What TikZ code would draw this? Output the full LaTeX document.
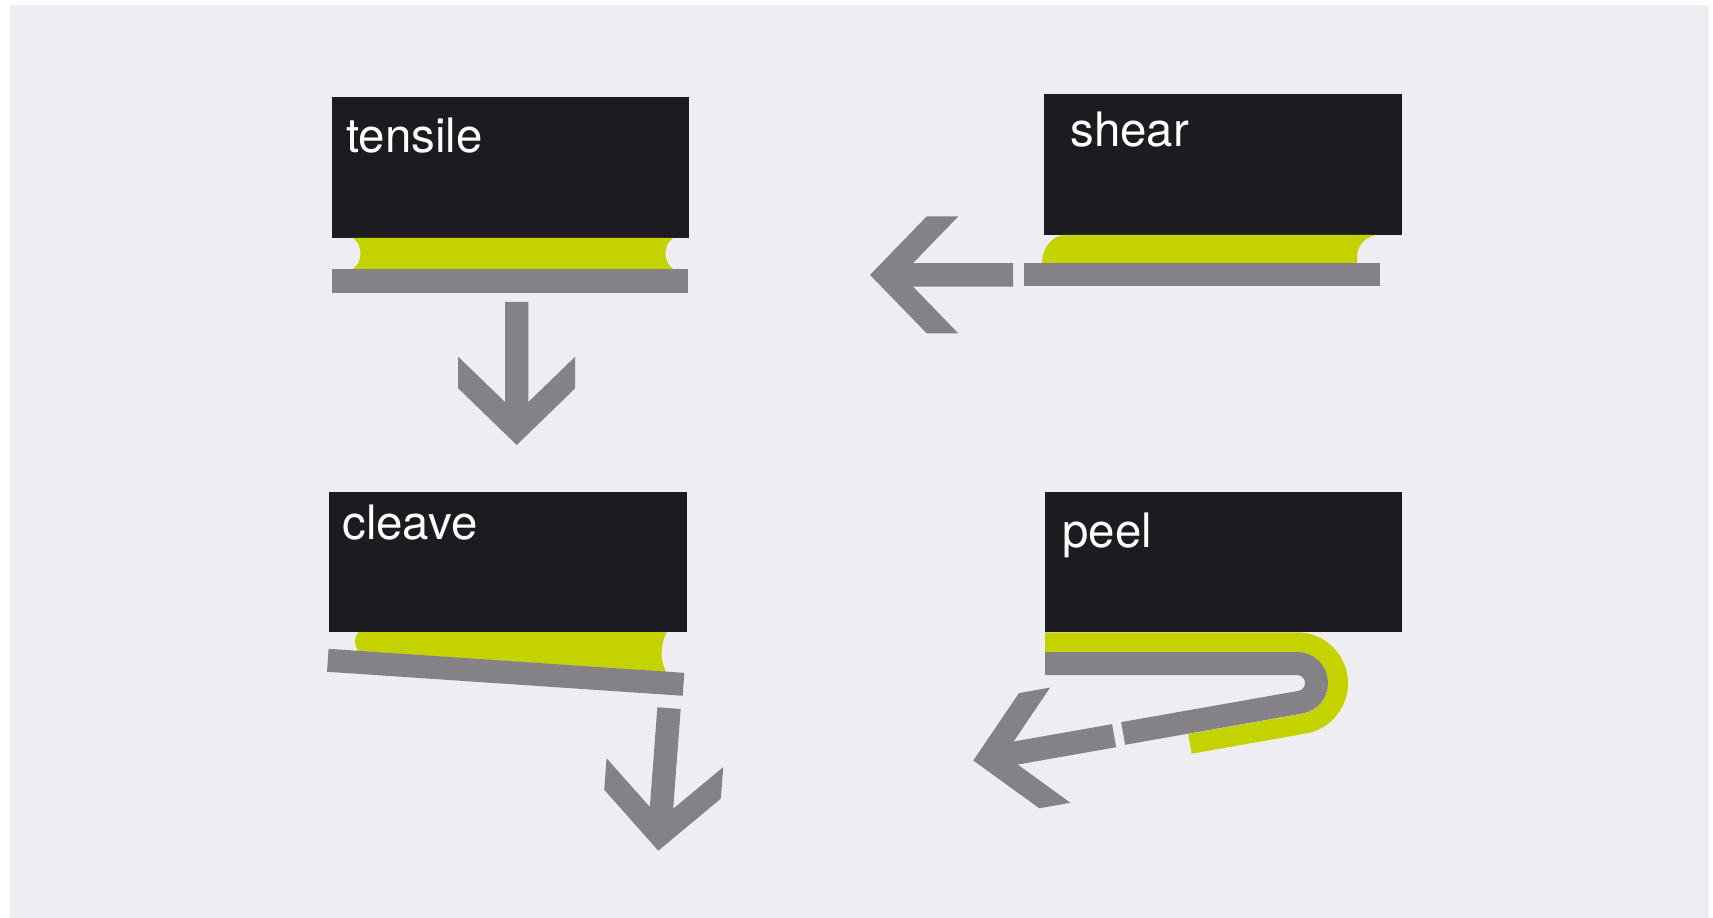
\documentclass[tikz,border=0pt]{standalone}
\usepackage{fontspec}
\setmainfont{TeX Gyre Heros}
\definecolor{bg}{HTML}{EEEDF2}
\definecolor{blk}{HTML}{1C1B20}
\definecolor{lime}{HTML}{C4D300}
\definecolor{gry}{HTML}{858287}
\tikzset{
  chev/.pic={\fill[gry] (0,0) -- (-58.5,-56.7) -- (-58.5,-88.3) -- (-11.7,-43) -- (-11.7,-143) -- (11.7,-143) -- (11.7,-43) -- (58.5,-88.3) -- (58.5,-56.7) -- cycle;},
  lbl/.style={anchor=base west, inner sep=0pt, text=white, font=\fontsize{27}{30}\selectfont},
  blkbox/.style={fill=blk},
  barfill/.style={fill=gry},
  glue/.style={fill=lime}
}
\begin{document}
\begin{tikzpicture}[x=0.02cm, y=-0.02cm]
\useasboundingbox (0,0) rectangle (1713,918);
\fill[white] (0,0) rectangle (1713,918);
\fill[bg] (10,5) rectangle (1708.5,918);

% ---------- tensile ----------
\fill[blkbox] (332,97) rectangle (689,238);
\fill[glue] (353,238) -- (673,238) .. controls (663,245) and (663,262) .. (673,269) -- (353,269) .. controls (363,262) and (363,245) .. (353,238) -- cycle;
\fill[barfill] (332,269) rectangle (688,293);
\node[lbl] (tensile) at (346,153) {tensile};
\pic at (516.7,445) {chev};

% ---------- shear ----------
\fill[blkbox] (1044,94) rectangle (1402,235);
\fill[glue] (1063,235) -- (1376,235) .. controls (1362,238) and (1357,248) .. (1357,257) -- (1357,263.3) -- (1042,263.3) .. controls (1042,250) and (1050,237) .. (1063,235) -- cycle;
\fill[barfill] (1023.7,263.3) rectangle (1379.5,286.5);
\node[lbl] (shear) at (1070,147) {shear};
\pic[rotate=-90] at (870,274.9) {chev};

% ---------- cleave ----------
\fill[blkbox] (329,491.7) rectangle (686.5,632);
\fill[glue] (358,632) -- (666.7,632) .. controls (660,645) and (660,660) .. (666,672) -- (358,651) .. controls (354,645) and (354,638) .. (358,632) -- cycle;
\draw[gry, line width=0.46cm] (327.8,660.3) -- (683.5,684.3);
\node[lbl] (cleave) at (342,539) {cleave};
\pic[rotate=-4.3] at (658.3,850.7) {chev};

% ---------- peel ----------
\fill[blkbox] (1045,491.7) rectangle (1401.7,632.3);
\draw[lime, line width=0.4cm] (1045,642.3) -- (1297,642.3) arc[start angle=-90, end angle=80, radius=41] -- ++(170:116);
\draw[gry, line width=0.46cm] (1045,663.5) -- (1297,663.5) arc[start angle=-90, end angle=80, radius=19.5] -- ++(170:180);
\node[lbl] (peel) at (1062,547) {peel};
\pic[rotate=-80] at (973.3,760.5) {chev};
\end{tikzpicture}
\end{document}
